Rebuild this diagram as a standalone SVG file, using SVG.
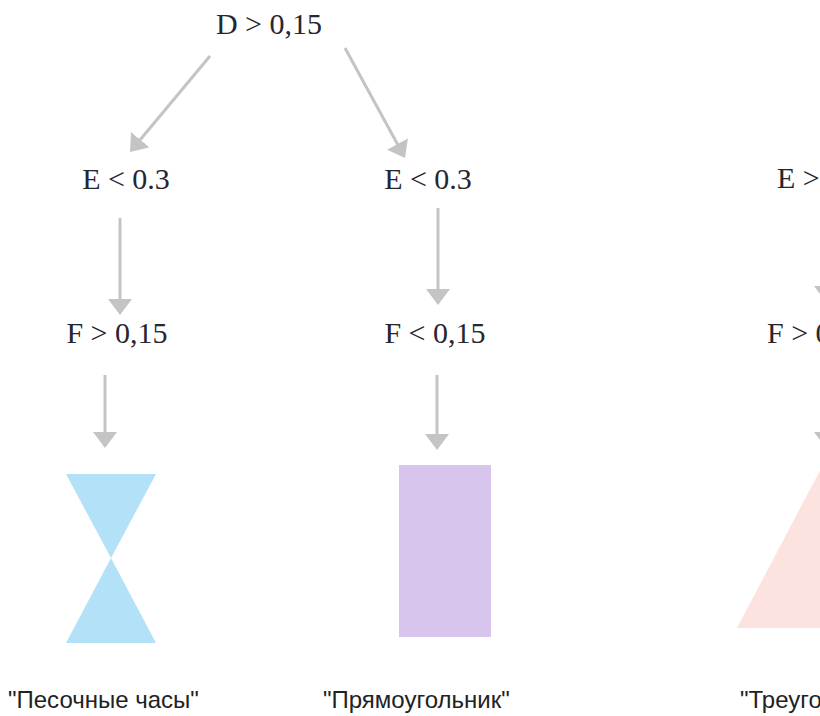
<svg xmlns="http://www.w3.org/2000/svg" width="820" height="716" viewBox="0 0 820 716">
<style>
.cond{font-family:"Liberation Serif","DejaVu Serif",serif;font-size:30px;fill:#26262e;}
.lbl{font-family:"Liberation Sans",Arial,sans-serif;font-size:24px;fill:#222;}
.arr{stroke:#c4c4c4;stroke-width:3;fill:none;marker-end:url(#ah);}
</style>
<defs>
<marker id="ah" viewBox="0 0 16 24" refX="4" refY="12" markerWidth="16" markerHeight="24" markerUnits="userSpaceOnUse" orient="auto">
<path d="M0,0 L16,12 L0,24 z" fill="#c4c4c4"/>
</marker>
</defs>
<rect width="820" height="716" fill="#fff"/>
<g id="connectors">
<line class="arr" x1="210" y1="56" x2="137.7" y2="142.8"/>
<line class="arr" x1="345" y1="48" x2="399.3" y2="147.5"/>
<line class="arr" x1="120" y1="218" x2="120" y2="303"/>
<line class="arr" x1="438" y1="208" x2="438" y2="293"/>
<line class="arr" x1="105" y1="375" x2="105" y2="436"/>
<line class="arr" x1="437" y1="375" x2="437" y2="438"/>
<line class="arr" x1="826" y1="208" x2="826" y2="290"/>
<line class="arr" x1="826" y1="375" x2="826" y2="436"/>
</g>
<g id="d"><text class="cond" x="269" y="34" text-anchor="middle">D &gt; 0,15</text></g>
<g id="e1"><text class="cond" x="126" y="189" text-anchor="middle">E &lt; 0.3</text></g>
<g id="e2"><text class="cond" x="428" y="189" text-anchor="middle">E &lt; 0.3</text></g>
<g id="e3"><text class="cond" x="777" y="188">E &gt;</text></g>
<g id="f1"><text class="cond" x="117" y="343" text-anchor="middle">F &gt; 0,15</text></g>
<g id="f2"><text class="cond" x="435" y="343" text-anchor="middle">F &lt; 0,15</text></g>
<g id="f3"><text class="cond" x="767" y="343">F &gt; 0</text></g>
<g id="hourglass">
<polygon points="66,474 156,474 111,558" fill="#b3e1f7"/>
<polygon points="111,558 66,643 156,643" fill="#b3e1f7"/>
<text class="lbl" x="8" y="708">"Песочные часы"</text>
</g>
<g id="rectangle">
<rect x="399" y="465" width="92" height="172" fill="#d8c5ee"/>
<text class="lbl" x="323" y="708">"Прямоугольник"</text>
</g>
<g id="triangle">
<polygon points="737,628 826,459 915,628" fill="#fde3df"/>
<text class="lbl" x="740" y="708">"Треугольник"</text>
</g>
</svg>
